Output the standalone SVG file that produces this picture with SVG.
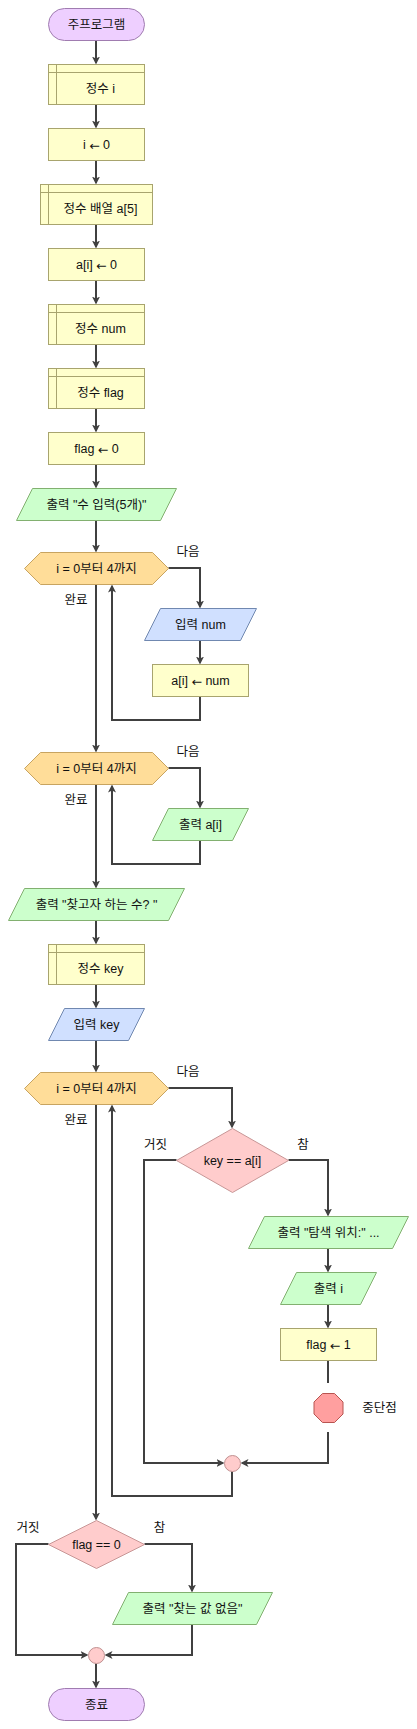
<svg xmlns="http://www.w3.org/2000/svg" width="417" height="1729" viewBox="0 0 417 1729">
<style>
text{font-family:"Liberation Sans","Noto Sans CJK KR",sans-serif;font-size:12.5px;fill:#111;text-anchor:middle;dominant-baseline:central}
.ar{font-family:"DejaVu Sans",sans-serif}
.term{fill:#eecfff;stroke:#a07cb0;stroke-width:1}
.proc{fill:#ffffcc;stroke:#a8a46e;stroke-width:1}
.out{fill:#ccffcc;stroke:#82b070;stroke-width:1}
.inp{fill:#d0e0ff;stroke:#7088b0;stroke-width:1}
.loop{fill:#ffdd99;stroke:#c8a460;stroke-width:1}
.dec{fill:#ffcccc;stroke:#c89696;stroke-width:1}
.stop{fill:#ff9f9f;stroke:#b85450;stroke-width:1}
.merge{fill:#ffcccc;stroke:#c09090;stroke-width:1}
.c{fill:none;stroke:#404040;stroke-width:2}
.a{marker-end:url(#arr)}
</style>
<defs>
<marker id="arr" markerWidth="8" markerHeight="8" refX="6" refY="4" orient="auto" markerUnits="userSpaceOnUse">
<path d="M0,0 L8,4 L0,8 L2,4 z" fill="#404040"/>
</marker>
</defs>
<g id="connectors">
<path class="c a" d="M96,40.5 V62.5"/>
<path class="c a" d="M96,104.5 V126.5"/>
<path class="c a" d="M96,160.5 V182.5"/>
<path class="c a" d="M96,224.5 V246.5"/>
<path class="c a" d="M96,280.5 V302.5"/>
<path class="c a" d="M96,344.5 V366.5"/>
<path class="c a" d="M96,408.5 V430.5"/>
<path class="c a" d="M96,464.5 V486.5"/>
<path class="c a" d="M96,520.5 V550.5"/>
<path class="c a" d="M168.5,568 H200 V606.5"/>
<path class="c a" d="M200,640.5 V662.5"/>
<path class="c a" d="M200,696.5 V720 H112 V586.5"/>
<path class="c a" d="M96,584.5 V750.5"/>
<path class="c a" d="M168.5,768 H200 V806.5"/>
<path class="c a" d="M200,840.5 V864 H112 V786.5"/>
<path class="c a" d="M96,784.5 V886.5"/>
<path class="c a" d="M96,920.5 V942.5"/>
<path class="c a" d="M96,984.5 V1006.5"/>
<path class="c a" d="M96,1040.5 V1070.5"/>
<path class="c a" d="M168.5,1088 H232 V1126.5"/>
<path class="c a" d="M176.5,1160 H144 V1463 H222.5"/>
<path class="c a" d="M288.5,1160 H328 V1214.5"/>
<path class="c a" d="M328,1248.5 V1270.5"/>
<path class="c a" d="M328,1304.5 V1326.5"/>
<path class="c" d="M328,1360.5 V1383"/>
<path class="c a" d="M328,1432 V1463 H242.5"/>
<path class="c a" d="M232,1471.5 V1496 H112 V1106.5"/>
<path class="c a" d="M96,1104.5 V1518.5"/>
<path class="c a" d="M48.5,1544 H16 V1655 H86.5"/>
<path class="c a" d="M144.5,1544 H192 V1590.5"/>
<path class="c a" d="M192,1624.5 V1655 H106.5"/>
<path class="c a" d="M96,1663.5 V1686.5"/>
</g>
<g id="n-start"><rect class="term" x="48.5" y="8.5" width="96" height="32" rx="16"/><text x="96.5" y="24.5">주프로그램</text></g>
<g id="n-decl-i"><rect class="proc" x="48.5" y="64.5" width="96" height="40"/><path class="proc" d="M56.5,64.5 V104.5 M48.5,72.5 H144.5"/><text x="100.5" y="88.5">정수 i</text></g>
<g id="n-i0"><rect class="proc" x="48.5" y="128.5" width="96" height="32"/><text x="96.5" y="144.5">i <tspan class="ar">←</tspan> 0</text></g>
<g id="n-decl-a"><rect class="proc" x="40.5" y="184.5" width="112" height="40"/><path class="proc" d="M48.5,184.5 V224.5 M40.5,192.5 H152.5"/><text x="100.5" y="208.5">정수 배열 a[5]</text></g>
<g id="n-ai0"><rect class="proc" x="48.5" y="248.5" width="96" height="32"/><text x="96.5" y="264.5">a[i] <tspan class="ar">←</tspan> 0</text></g>
<g id="n-decl-num"><rect class="proc" x="48.5" y="304.5" width="96" height="40"/><path class="proc" d="M56.5,304.5 V344.5 M48.5,312.5 H144.5"/><text x="100.5" y="328.5">정수 num</text></g>
<g id="n-decl-flag"><rect class="proc" x="48.5" y="368.5" width="96" height="40"/><path class="proc" d="M56.5,368.5 V408.5 M48.5,376.5 H144.5"/><text x="100.5" y="392.5">정수 flag</text></g>
<g id="n-flag0"><rect class="proc" x="48.5" y="432.5" width="96" height="32"/><text x="96.5" y="448.5">flag <tspan class="ar">←</tspan> 0</text></g>
<g id="n-out1"><polygon class="out" points="32.5,488.5 176.5,488.5 160.5,520.5 16.5,520.5"/><text x="96.5" y="504.5">출력 "수 입력(5개)"</text></g>
<g id="n-loop1"><polygon class="loop" points="24.5,568.5 40.5,552.5 152.5,552.5 168.5,568.5 152.5,584.5 40.5,584.5"/><text x="96.5" y="568.5">i = 0부터 4까지</text></g>
<g id="n-in-num"><polygon class="inp" points="160.5,608.5 256.5,608.5 240.5,640.5 144.5,640.5"/><text x="200.5" y="624.5">입력 num</text></g>
<g id="n-ai-num"><rect class="proc" x="152.5" y="664.5" width="96" height="32"/><text x="200.5" y="680.5">a[i] <tspan class="ar">←</tspan> num</text></g>
<g id="n-loop2"><polygon class="loop" points="24.5,768.5 40.5,752.5 152.5,752.5 168.5,768.5 152.5,784.5 40.5,784.5"/><text x="96.5" y="768.5">i = 0부터 4까지</text></g>
<g id="n-out-ai"><polygon class="out" points="168.5,808.5 248.5,808.5 232.5,840.5 152.5,840.5"/><text x="200.5" y="824.5">출력 a[i]</text></g>
<g id="n-out2"><polygon class="out" points="24.5,888.5 184.5,888.5 168.5,920.5 8.5,920.5"/><text x="96.5" y="904.5">출력 "찾고자 하는 수? "</text></g>
<g id="n-decl-key"><rect class="proc" x="48.5" y="944.5" width="96" height="40"/><path class="proc" d="M56.5,944.5 V984.5 M48.5,952.5 H144.5"/><text x="100.5" y="968.5">정수 key</text></g>
<g id="n-in-key"><polygon class="inp" points="64.5,1008.5 144.5,1008.5 128.5,1040.5 48.5,1040.5"/><text x="96.5" y="1024.5">입력 key</text></g>
<g id="n-loop3"><polygon class="loop" points="24.5,1088.5 40.5,1072.5 152.5,1072.5 168.5,1088.5 152.5,1104.5 40.5,1104.5"/><text x="96.5" y="1088.5">i = 0부터 4까지</text></g>
<g id="n-dec1"><polygon class="dec" points="232.5,1128.5 288.5,1160.5 232.5,1192.5 176.5,1160.5"/><text x="232.5" y="1160.5">key == a[i]</text></g>
<g id="n-out3"><polygon class="out" points="264.5,1216.5 408.5,1216.5 392.5,1248.5 248.5,1248.5"/><text x="328.5" y="1232.5">출력 "탐색 위치:" ...</text></g>
<g id="n-out-i"><polygon class="out" points="296.5,1272.5 376.5,1272.5 360.5,1304.5 280.5,1304.5"/><text x="328.5" y="1288.5">출력 i</text></g>
<g id="n-flag1"><rect class="proc" x="280.5" y="1328.5" width="96" height="32"/><text x="328.5" y="1344.5">flag <tspan class="ar">←</tspan> 1</text></g>
<g id="n-break"><polygon class="stop" points="322.5,1393.5 334.5,1393.5 343,1402 343,1414 334.5,1422.5 322.5,1422.5 314,1414 314,1402"/><text x="379.5" y="1408">중단점</text></g>
<g id="n-merge1"><circle class="merge" cx="232.5" cy="1463.5" r="8"/></g>
<g id="n-dec2"><polygon class="dec" points="96.5,1520.5 144.5,1544.5 96.5,1568.5 48.5,1544.5"/><text x="96.5" y="1544.5">flag == 0</text></g>
<g id="n-out4"><polygon class="out" points="128.5,1592.5 272.5,1592.5 256.5,1624.5 112.5,1624.5"/><text x="192.5" y="1608.5">출력 "찾는 값 없음"</text></g>
<g id="n-merge2"><circle class="merge" cx="96.5" cy="1655.5" r="8"/></g>
<g id="n-end"><rect class="term" x="48.5" y="1688.5" width="96" height="32" rx="16"/><text x="96.5" y="1704.5">종료</text></g>
<g id="labels">
<text x="188" y="552">다음</text>
<text x="76" y="600">완료</text>
<text x="188" y="752">다음</text>
<text x="76" y="800">완료</text>
<text x="188" y="1072">다음</text>
<text x="76" y="1120">완료</text>
<text x="155.5" y="1144.5">거짓</text>
<text x="303" y="1144.5">참</text>
<text x="28" y="1528">거짓</text>
<text x="159.5" y="1528">참</text>
</g>
</svg>
